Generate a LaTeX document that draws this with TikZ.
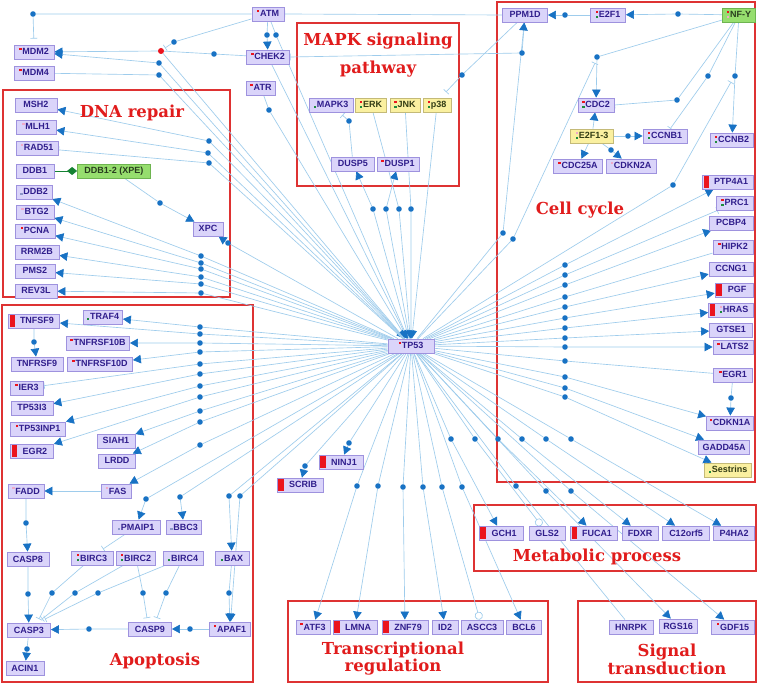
\documentclass[tikz,border=0pt]{standalone}
\usepackage{fontspec}
\setmainfont{Liberation Sans}
\newfontfamily\titlef{DejaVu Serif}
\usetikzlibrary{arrows.meta,calc}
\definecolor{lblue}{RGB}{158,204,236}
\definecolor{dblue}{RGB}{24,114,196}
\definecolor{gfill}{RGB}{218,212,250}
\definecolor{gborder}{RGB}{158,146,222}
\definecolor{gtext}{RGB}{48,30,140}
\definecolor{yfill}{RGB}{250,240,160}
\definecolor{yborder}{RGB}{196,186,120}
\definecolor{ytext}{RGB}{50,60,20}
\definecolor{nfill}{RGB}{150,222,110}
\definecolor{nborder}{RGB}{110,180,80}
\definecolor{ntext}{RGB}{40,60,30}
\definecolor{fred}{RGB}{222,50,50}
\definecolor{tred}{RGB}{225,28,28}
\definecolor{mred}{RGB}{235,20,30}
\definecolor{mgreen}{RGB}{30,140,60}
\definecolor{mpink}{RGB}{240,170,200}
\definecolor{mgrey}{RGB}{140,150,200}
\definecolor{dgreen}{RGB}{20,130,50}
\newcommand\rsq{\textcolor{mred}{\rule[4.8pt]{2.4pt}{2.4pt}}\hspace{0.8pt}}
\newcommand\psq{\textcolor{mpink}{\rule[4.8pt]{2.4pt}{2.4pt}}\hspace{0.8pt}}
\newcommand\gsq{\textcolor{mgreen}{\rule{2.4pt}{2.4pt}}\hspace{0.8pt}}
\newcommand\greysq{\textcolor{mgrey}{\rule{2.4pt}{2.4pt}}\hspace{0.8pt}}
\newcommand\rgsq{\rlap{\textcolor{mred}{\rule[4.8pt]{2.4pt}{2.4pt}}}\textcolor{mgreen}{\rule{2.4pt}{2.4pt}}\hspace{0.8pt}}
\newcommand\pgsq{\rlap{\textcolor{mpink}{\rule[4.8pt]{2.4pt}{2.4pt}}}\textcolor{mgreen}{\rule{2.4pt}{2.4pt}}\hspace{0.8pt}}
\newcommand\rpsq{\rlap{\textcolor{mred}{\rule[4.8pt]{2.4pt}{2.4pt}}}\textcolor{mpink}{\rule{2.4pt}{2.4pt}}\hspace{0.8pt}}
\newcommand\bsp{\hspace{6pt}}
\pgfdeclarelayer{bg}
\pgfsetlayers{bg,main}
\tikzset{
  gene/.style={draw=gborder, fill=gfill, line width=0.8pt, inner xsep=1.5pt, inner ysep=0pt,
    minimum height=14pt, text height=6.6pt, text depth=0.6pt, text=gtext,
    font=\fontsize{9}{10}\selectfont\bfseries},
  ygene/.style={fill=yfill, draw=yborder, text=ytext},
  ngene/.style={fill=nfill, draw=nborder, text=ntext},
  rbar/.style={path picture={\fill[mred] ($(path picture bounding box.north west)+(1.2,1.2)$) rectangle ($(path picture bounding box.south west)+(6.5,-1.2)$);}},
  frame/.style={draw=fred, line width=1.1pt},
  ttl/.style={text=tred, font=\titlef\fontsize{16.5}{18}\selectfont\bfseries, inner sep=0pt},
  ln/.style={draw=lblue, line width=0.65pt},
  act/.style={ln, -{Triangle[length=8pt,width=8.5pt,color=dblue]}},
  inh/.style={ln, -{Bar[width=7pt]}},
  ocirc/.style={ln, -{Circle[open,length=8pt,width=8pt]}},
  bind/.style={draw=dgreen, line width=0.75pt, -{Diamond[length=10pt,width=8pt,color=dgreen]}},
  dt/.style={circle, fill=dblue, inner sep=0pt, minimum size=5.6pt},
}
\newcommand\gn[6][]{\node[gene,#1,minimum width=#5] (#2) at (#3,#4) {#6};}
\newcommand\dd[3]{\node[dt] (#1) at (#2,#3) {};}
\newcommand\fan[4]{\draw[#1] (tp53) -- (#2) -- (#3#4);}
\begin{document}
\begin{tikzpicture}[x=1pt,y=-1pt]
\useasboundingbox (0,0) rectangle (758,684);
\begin{pgfonlayer}{bg}
\fill[white] (0,0) rectangle (758,684);
\draw[frame] (3,90) rectangle (230,297);
\draw[frame] (297,23) rectangle (459,186);
\draw[frame] (497,2) rectangle (755,482);
\draw[frame] (2,305) rectangle (253,682);
\draw[frame] (474,505) rectangle (756,571);
\draw[frame] (288,601) rectangle (548,682);
\draw[frame] (578,601) rectangle (756,682);
\end{pgfonlayer}
% titles
\node[ttl] (tdna) at (132,113) {DNA repair};
\node[ttl] (tmapk1) at (378,41) {MAPK signaling};
\node[ttl] (tmapk2) at (378,69) {pathway};
\node[ttl] (tcell) at (580,210) {Cell cycle};
\node[ttl] (tapo) at (155,661) {Apoptosis};
\node[ttl] (tmet) at (597,557) {Metabolic process};
\node[ttl] (ttr1) at (393,650) {Transcriptional};
\node[ttl] (ttr2) at (393,667) {regulation};
\node[ttl] (tsig1) at (667,652) {Signal};
\node[ttl] (tsig2) at (667,668) {transduction};
% genes top
\gn{tp53}{411}{346}{46}{\rsq TP53}
\gn{atm}{268}{14}{32}{\rsq ATM}
\gn{mdm2}{34}{52}{40}{\rsq MDM2}
\gn{mdm4}{34}{73}{40}{\rsq MDM4}
\gn{chek2}{268}{57}{43}{\rsq CHEK2}
\gn{atr}{261}{88}{29}{\rsq ATR}
% DNA repair
\gn{msh2}{36}{105}{42}{MSH2}
\gn{mlh1}{36}{127}{40}{\psq MLH1}
\gn{rad51}{37}{148}{42}{\psq RAD51}
\gn{ddb1}{35}{171}{38}{DDB1}
\gn[ngene]{ddb12}{114}{171}{73}{DDB1-2 (XPE)}
\gn{ddb2}{34}{192}{36}{\greysq DDB2}
\gn{btg2}{35}{212}{38}{\psq BTG2}
\gn{pcna}{35}{231}{40}{\rsq PCNA}
\gn{rrm2b}{37}{252}{44}{RRM2B}
\gn{pms2}{35}{271}{40}{PMS2}
\gn{rev3l}{36}{291}{42}{REV3L}
\gn{xpc}{208}{229}{30}{XPC}
% MAPK
\gn{mapk3}{331}{105}{44}{\gsq MAPK3}
\gn[ygene]{erk}{371}{105}{31}{\rgsq ERK}
\gn[ygene]{jnk}{405}{105}{30}{\rgsq JNK}
\gn[ygene]{p38}{437}{105}{28}{\rgsq p38}
\gn{dusp5}{353}{164}{43}{DUSP5}
\gn{dusp1}{398}{164}{42}{\rsq DUSP1}
% cell cycle
\gn{ppm1d}{525}{15}{45}{PPM1D}
\gn{e2f1}{608}{15}{35}{\rgsq E2F1}
\gn[ngene]{nfy}{739}{15}{33}{\rpsq NF-Y}
\gn{cdc2}{596}{105}{36}{\rgsq CDC2}
\gn[ygene]{e2f13}{592}{136}{43}{\pgsq E2F1-3}
\gn{ccnb1}{665}{136}{44}{\rgsq CCNB1}
\gn{ccnb2}{732}{140}{43}{\rgsq CCNB2}
\gn{cdc25a}{578}{166}{49}{\rsq CDC25A}
\gn{cdkn2a}{631}{166}{50}{\psq CDKN2A}
\gn[rbar]{ptp4a1}{728}{182}{51}{\bsp PTP4A1}
\gn{prc1}{735}{203}{37}{\rgsq PRC1}
\gn{pcbp4}{731}{223}{44}{PCBP4}
\gn{hipk2}{733}{247}{40}{\rsq HIPK2}
\gn{ccng1}{731}{269}{44}{CCNG1}
\gn[rbar]{pgf}{734}{290}{38}{\bsp PGF}
\gn[rbar]{hras}{731}{310}{45}{\bsp\pgsq HRAS}
\gn{gtse1}{731}{330}{43}{GTSE1}
\gn{lats2}{733}{347}{40}{\rsq LATS2}
\gn{egr1}{733}{375}{39}{\rsq EGR1}
\gn{cdkn1a}{730}{423}{47}{\rsq CDKN1A}
\gn{gadd45a}{724}{447}{51}{GADD45A}
\gn[ygene]{sestrins}{728}{470}{47}{\gsq Sestrins}
% apoptosis
\gn[rbar]{tnfsf9}{34}{321}{51}{\bsp TNFSF9}
\gn{traf4}{103}{317}{39}{\gsq TRAF4}
\gn{tnfrsf10b}{98}{343}{63}{\rsq TNFRSF10B}
\gn{tnfrsf9}{37}{364}{52}{TNFRSF9}
\gn{tnfrsf10d}{100}{364}{65}{\rsq TNFRSF10D}
\gn{ier3}{27}{388}{33}{\rsq IER3}
\gn{tp53i3}{32}{408}{42}{TP53I3}
\gn{tp53inp1}{38}{429}{55}{\rsq TP53INP1}
\gn[rbar]{egr2}{32}{451}{43}{\bsp EGR2}
\gn{siah1}{116}{441}{38}{SIAH1}
\gn{lrdd}{117}{461}{37}{LRDD}
\gn{fadd}{26}{491}{36}{\psq FADD}
\gn{fas}{116}{491}{30}{\psq FAS}
\gn{pmaip1}{136}{527}{48}{\greysq PMAIP1}
\gn{bbc3}{184}{527}{35}{\greysq BBC3}
\gn{casp8}{28}{559}{42}{CASP8}
\gn{birc3}{92}{558}{42}{\rgsq BIRC3}
\gn{birc2}{136}{558}{39}{\rgsq BIRC2}
\gn{birc4}{183}{558}{40}{\gsq BIRC4}
\gn{bax}{232}{558}{34}{\gsq BAX}
\gn{casp3}{29}{630}{43}{CASP3}
\gn{casp9}{150}{629}{43}{CASP9}
\gn{apaf1}{230}{629}{41}{\rsq APAF1}
\gn{acin1}{25}{668}{38}{ACIN1}
% others
\gn[rbar]{ninj1}{341}{462}{44}{\bsp NINJ1}
\gn[rbar]{scrib}{300}{485}{46}{\bsp SCRIB}
\gn[rbar]{gch1}{501}{533}{44}{\bsp GCH1}
\gn{gls2}{547}{533}{36}{GLS2}
\gn[rbar]{fuca1}{594}{533}{47}{\bsp FUCA1}
\gn{fdxr}{640}{533}{36}{FDXR}
\gn{c12orf5}{686}{533}{47}{C12orf5}
\gn{p4ha2}{734}{533}{41}{P4HA2}
\gn{atf3}{313}{627}{34}{\rsq ATF3}
\gn[rbar]{lmna}{355}{627}{44}{\bsp LMNA}
\gn[rbar]{znf79}{405}{627}{46}{\bsp ZNF79}
\gn{id2}{445}{627}{26}{ID2}
\gn{ascc3}{482}{627}{42}{ASCC3}
\gn{bcl6}{524}{627}{35}{BCL6}
\gn{hnrpk}{631}{627}{44}{HNRPK}
\gn{rgs16}{678}{626}{38}{RGS16}
\gn{gdf15}{733}{627}{43}{\rsq GDF15}
% dots
\node[circle, fill=mred, inner sep=0pt, minimum size=6pt] (rd) at (161,51) {};
\dd{dA}{33}{14}\dd{dB}{267}{35}\dd{dC}{276}{35}\dd{dD}{269}{110}\dd{dE}{174}{42}\dd{dF}{214}{54}
\dd{dmdm2}{159}{63}\dd{dmdm4}{159}{75}
\dd{dmsh2}{209}{141}\dd{dmlh1}{208}{153}\dd{drad51}{209}{163}
\dd{dddb2}{201}{256}\dd{dbtg2}{201}{263}\dd{dpcna}{201}{269}\dd{drrm2b}{201}{277}\dd{dpms2}{201}{284}\dd{drev3l}{201}{293}
\dd{dxpc}{228}{243}\dd{dS}{160}{203}
\dd{dG}{522}{53}\dd{dH}{462}{75}\dd{dI}{349}{121}
\dd{ddusp5}{373}{209}\dd{ddusp1}{386}{209}\dd{derk}{399}{209}\dd{djnk}{411}{209}
\dd{dJ}{565}{15}\dd{dK}{678}{14}\dd{dL}{597}{57}\dd{dM}{677}{100}\dd{dN}{708}{76}\dd{dO}{735}{76}
\dd{dP}{628}{136}\dd{dQ}{611}{150}\dd{dR}{731}{398}
\dd{dppm1d}{503}{233}\dd{dcdcbar}{513}{239}\dd{dccbar}{673}{185}
\dd{dptp4a1}{565}{265}\dd{dprc1}{565}{275}\dd{dpcbp4}{565}{285}\dd{dhipk2}{565}{297}\dd{dccng1}{565}{307}
\dd{dpgf}{565}{318}\dd{dhras}{565}{328}\dd{dgtse1}{565}{338}\dd{dlats2}{565}{347}\dd{degr1}{565}{361}
\dd{dcdkn1a}{565}{377}\dd{dgadd45a}{565}{388}\dd{dsestrins}{565}{397}
\dd{dtraf4}{200}{327}\dd{dtnfsf9}{200}{334}\dd{dtnfrsf10b}{200}{343}\dd{dtnfrsf10d}{200}{352}\dd{dier3}{200}{364}
\dd{dtp53i3}{200}{374}\dd{dtp53inp1}{200}{386}\dd{degr2}{200}{397}\dd{dsiah1}{200}{411}\dd{dlrdd}{200}{422}\dd{dfas}{200}{445}
\dd{dpmaip1}{146}{499}\dd{dbbc3}{180}{497}\dd{dbax}{229}{496}\dd{dapaf1}{240}{496}
\dd{dT}{34}{342}\dd{dU}{26}{523}\dd{dV}{28}{594}\dd{dW}{27}{649}\dd{dX}{89}{629}\dd{dY}{190}{629}\dd{dZ}{229}{593}
\dd{da1}{52}{593}\dd{da2}{75}{593}\dd{da3}{98}{593}\dd{da4}{143}{593}\dd{da5}{166}{593}
\dd{dninj1}{349}{443}\dd{dscrib}{305}{466}
\dd{datf3}{357}{486}\dd{dlmna}{378}{486}\dd{dznf79}{403}{487}\dd{did2}{423}{487}\dd{dascc3}{442}{487}\dd{dbcl6}{462}{487}
\dd{dgch1}{451}{439}\dd{dgls2}{475}{439}\dd{dfuca1}{498}{439}\dd{dfdxr}{522}{439}
\dd{dhnrpk}{516}{486}\dd{drgs16}{546}{491}\dd{dgdf15}{571}{491}
\dd{dc12}{546}{439}\dd{dp4ha2}{571}{439}
% free ends
\coordinate (cbM) at (165,48);
\coordinate (cbP) at (446,92);
\coordinate (cbC) at (595,63);
\coordinate (cbD) at (731,82);
\coordinate (cb1) at (39,619);
\coordinate (cb2) at (42,619);
\coordinate (cb3) at (45,619);
\coordinate (cb4) at (147,618);
\coordinate (cb5) at (157,618);
\coordinate (cb6) at (103,549);
\begin{pgfonlayer}{bg}
% top
\draw[inh, shorten >=6pt] (atm.west) -- (dA) -- (mdm2.north);
\draw[act] (atm) -- (dB) -- (chek2);
\draw[act] (atm) -- (dC) -- (tp53);
\draw[act] (chek2) -- (tp53);
\draw[act] (atr) -- (dD) -- (tp53);
\draw[inh] (atm) -- (dE) -- (cbM);
\draw[ln] (chek2) -- (dF) -- (rd);
\draw[act] (rd) -- (mdm2);
\draw[act] (rd) -- (tp53);
\fan{act}{dmdm2}{mdm2}{}
\fan{ln}{dmdm4}{mdm4}{}
\draw[inh] (ppm1d.west) -- (atm.east);
\draw[inh] (ppm1d) -- (dG) -- (chek2.east);
\draw[inh] (ppm1d) -- (dH) -- (cbP);
\fan{act}{dppm1d}{ppm1d}{}
% MAPK
\draw[inh, shorten >=4pt] (dusp5) -- (dI) -- (mapk3);
\fan{act}{ddusp5}{dusp5}{}
\fan{act}{ddusp1}{dusp1}{}
\draw[act] (erk) -- (derk) -- (tp53);
\draw[act] (jnk) -- (djnk) -- (tp53);
\draw[act] (p38) -- (tp53);
% DNA repair
\draw[bind] (ddb1) -- (ddb12);
\draw[act] (ddb12) -- (dS) -- (xpc);
\fan{act}{dmsh2}{msh2}{}
\fan{act}{dmlh1}{mlh1}{}
\fan{inh}{drad51}{rad51}{}
\fan{act}{dddb2}{ddb2}{}
\fan{act}{dbtg2}{btg2}{}
\fan{act}{dpcna}{pcna}{}
\fan{act}{drrm2b}{rrm2b}{}
\fan{act}{dpms2}{pms2}{}
\fan{act}{drev3l}{rev3l}{}
\fan{act}{dxpc}{xpc}{}
% cell cycle
\draw[act] (e2f1) -- (dJ) -- (ppm1d);
\draw[act] (nfy) -- (dK) -- (e2f1);
\draw[act] (nfy) -- (dL) -- (cdc2);
\draw[inh] (nfy) -- (dM) -- (cdc2.east);
\draw[inh] (nfy) -- (dN) -- (ccnb1);
\draw[act] (nfy) -- (dO) -- (ccnb2);
\fan{inh}{dcdcbar}{cbC}{}
\fan{inh}{dccbar}{cbD}{}
\draw[act] (e2f13) -- (cdc2);
\draw[act] (e2f13) -- (dP) -- (ccnb1);
\draw[act] (e2f13) -- (cdc25a);
\draw[act] (e2f13) -- (dQ) -- (cdkn2a);
\draw[act] (egr1) -- (dR) -- (cdkn1a);
\fan{act}{dptp4a1}{ptp4a1}{}
\fan{inh}{dprc1}{prc1}{}
\fan{act}{dpcbp4}{pcbp4}{}
\fan{ln}{dhipk2}{hipk2}{}
\fan{act}{dccng1}{ccng1}{}
\fan{act}{dpgf}{pgf}{}
\fan{act}{dhras}{hras}{}
\fan{act}{dgtse1}{gtse1}{}
\fan{act}{dlats2}{lats2}{}
\fan{ln}{degr1}{egr1}{}
\fan{act}{dcdkn1a}{cdkn1a}{}
\fan{act}{dgadd45a}{gadd45a}{}
\fan{act}{dsestrins}{sestrins}{}
% apoptosis
\draw[act] (tnfsf9) -- (dT) -- (tnfrsf9);
\draw[act] (fas) -- (fadd);
\draw[act] (fadd) -- (dU) -- (casp8);
\draw[act] (casp8) -- (dV) -- (casp3);
\draw[act] (casp3) -- (dW) -- (acin1);
\draw[act] (casp9) -- (dX) -- (casp3);
\draw[act] (apaf1) -- (dY) -- (casp9);
\draw[act] (bax) -- (dZ) -- (apaf1);
\draw[inh] (birc3) -- (da1) -- (cb1);
\draw[inh] (birc2) -- (da2) -- (cb2);
\draw[inh] (birc4) -- (da3) -- (cb3);
\draw[inh] (birc2) -- (da4) -- (cb4);
\draw[inh] (birc4) -- (da5) -- (cb5);
\draw[inh] (pmaip1) -- (cb6);
\fan{act}{dtraf4}{traf4}{}
\fan{act}{dtnfsf9}{tnfsf9}{}
\fan{act}{dtnfrsf10b}{tnfrsf10b}{}
\fan{act}{dtnfrsf10d}{tnfrsf10d}{}
\fan{inh}{dier3}{ier3}{}
\fan{act}{dtp53i3}{tp53i3}{}
\fan{act}{dtp53inp1}{tp53inp1}{}
\fan{act}{degr2}{egr2}{}
\fan{act}{dsiah1}{siah1}{}
\fan{act}{dlrdd}{lrdd}{}
\fan{act}{dfas}{fas}{}
\fan{act}{dpmaip1}{pmaip1}{}
\fan{act}{dbbc3}{bbc3}{}
\fan{act}{dbax}{bax}{}
\fan{act}{dapaf1}{apaf1}{}
% bottom
\fan{act}{dninj1}{ninj1}{}
\fan{act}{dscrib}{scrib}{}
\fan{act}{datf3}{atf3}{}
\fan{act}{dlmna}{lmna}{}
\fan{act}{dznf79}{znf79}{}
\fan{act}{did2}{id2}{}
\fan{ocirc}{dascc3}{ascc3}{}
\fan{act}{dbcl6}{bcl6}{}
\fan{act}{dgch1}{gch1}{}
\fan{ocirc}{dgls2}{gls2}{}
\fan{act}{dfuca1}{fuca1}{}
\fan{act}{dfdxr}{fdxr}{}
\fan{act}{dc12}{c12orf5}{}
\fan{act}{dp4ha2}{p4ha2}{}
\fan{ln}{dhnrpk}{hnrpk}{}
\fan{act}{drgs16}{rgs16}{}
\fan{act}{dgdf15}{gdf15}{}
\end{pgfonlayer}
\end{tikzpicture}
\end{document}
